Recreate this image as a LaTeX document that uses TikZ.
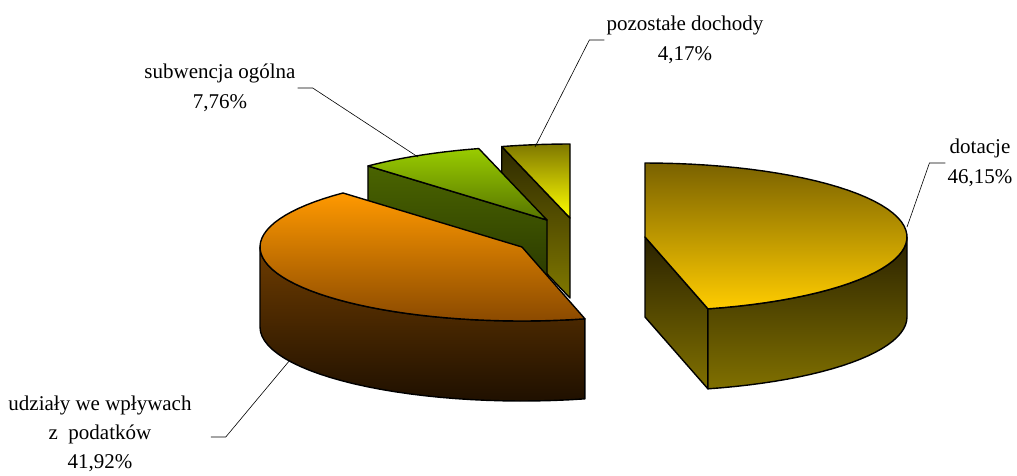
\documentclass[tikz,border=0pt]{standalone}
\usepackage{fontspec}
\setmainfont{Liberation Serif}
\definecolor{pozTop}{HTML}{7F7800}
\definecolor{pozTopB}{HTML}{FFFF00}
\definecolor{pozCut}{HTML}{2E2A00}
\definecolor{pozCutB}{HTML}{807800}
\definecolor{subTop}{HTML}{99CC00}
\definecolor{subTopB}{HTML}{567400}
\definecolor{subCut}{HTML}{4A6400}
\definecolor{subCutB}{HTML}{263300}
\definecolor{udzTop}{HTML}{FF9900}
\definecolor{udzTopB}{HTML}{8B4A00}
\definecolor{udzSide}{HTML}{6E3C00}
\definecolor{udzSideB}{HTML}{1F1000}
\definecolor{dotTop}{HTML}{7A6200}
\definecolor{dotTopB}{HTML}{FFCC00}
\definecolor{dotSide}{HTML}{2A2200}
\definecolor{dotSideB}{HTML}{807000}
\begin{document}
\begin{tikzpicture}[x=1pt,y=-1pt,
  rim/.style={line width=1.4pt,line join=round},
  leader/.style={line width=0.6pt},
  lbl/.style={align=center,font=\fontsize{21}{30}\selectfont,inner sep=2pt}]
\def\rx{262}\def\ry{74}\def\hh{80}
\useasboundingbox (0,0) rectangle (1017,475);

% pozostale dochody
\begin{scope}[shift={(570,218)}]
  \shadedraw[rim,top color=pozCut,bottom color=pozCutB] (0,0) -- ({\rx*cos(105.1)},{-\ry*sin(105.1)}) -- ++(0,\hh) -- (0,\hh) -- cycle;
  \shadedraw[rim,top color=pozTop,bottom color=pozTopB] (0,0) -- ({\rx*cos(105.1)},{-\ry*sin(105.1)})
    -- plot[domain=105.1:90,samples=8] ({\rx*cos(\x)},{-\ry*sin(\x)}) -- cycle;
\end{scope}

% subwencja ogolna
\begin{scope}[shift={(547,220)}]
  \shadedraw[rim,top color=subCut,bottom color=subCutB] (0,0) -- ({\rx*cos(133.1)},{-\ry*sin(133.1)}) -- ++(0,\hh) -- (0,\hh) -- cycle;
  \shadedraw[rim,top color=subTop,bottom color=subTopB] (0,0) -- ({\rx*cos(133.1)},{-\ry*sin(133.1)})
    -- plot[domain=133.1:105.1,samples=12] ({\rx*cos(\x)},{-\ry*sin(\x)}) -- cycle;
\end{scope}

% udzialy we wplywach z podatkow
\begin{scope}[shift={(522,247)}]
  \shadedraw[rim,top color=udzSide,bottom color=udzSideB] plot[domain=180:283.9,samples=30] ({\rx*cos(\x)},{-\ry*sin(\x)})
    -- plot[domain=283.9:180,samples=30] ({\rx*cos(\x)},{-\ry*sin(\x)+\hh}) -- cycle;
  \shadedraw[rim,top color=udzTop,bottom color=udzTopB] (0,0) -- ({\rx*cos(283.9)},{-\ry*sin(283.9)})
    -- plot[domain=283.9:133.1,samples=50] ({\rx*cos(\x)},{-\ry*sin(\x)}) -- cycle;
\end{scope}

% dotacje
\begin{scope}[shift={(645,237)}]
  \shadedraw[rim,top color=dotSide,bottom color=dotSideB] (0,0) -- ({\rx*cos(-76.1)},{-\ry*sin(-76.1)}) -- ++(0,\hh) -- (0,\hh) -- cycle;
  \shadedraw[rim,top color=dotSide,bottom color=dotSideB] plot[domain=-76.1:0,samples=25] ({\rx*cos(\x)},{-\ry*sin(\x)})
    -- plot[domain=0:-76.1,samples=25] ({\rx*cos(\x)},{-\ry*sin(\x)+\hh}) -- cycle;
  \shadedraw[rim,top color=dotTop,bottom color=dotTopB] (0,0) -- (0,-\ry)
    -- plot[domain=90:-76.1,samples=50] ({\rx*cos(\x)},{-\ry*sin(\x)}) -- cycle;
\end{scope}

% labels
\node[lbl] (dotLbl) at (980,163) {dotacje\\46,15\%};
\node[lbl] (pozLbl) at (685,40) {pozostałe dochody\\4,17\%};
\node[lbl] (subLbl) at (220,88) {subwencja ogólna\\7,76\%};
\node[lbl,font=\fontsize{21}{29}\selectfont] (udzLbl) at (100,434) {udziały we wpływach\\z\ \ podatków\\41,92\%};

\coordinate (dotRim) at (907,227);
\coordinate (pozRim) at (535,147);
\coordinate (subRim) at (418,157);
\coordinate (udzRim) at (290,360);

\draw[leader] (dotLbl.west) -- ++(-16,0) -- (dotRim);
\draw[leader] (pozLbl.west) -- ++(-15,0) -- (pozRim);
\draw[leader] (subLbl.east) -- ++(15,0) -- (subRim);
\draw[leader] ([xshift=17pt,yshift=-3pt]udzLbl.east) -- ++(15,0) -- (udzRim);
\end{tikzpicture}
\end{document}
